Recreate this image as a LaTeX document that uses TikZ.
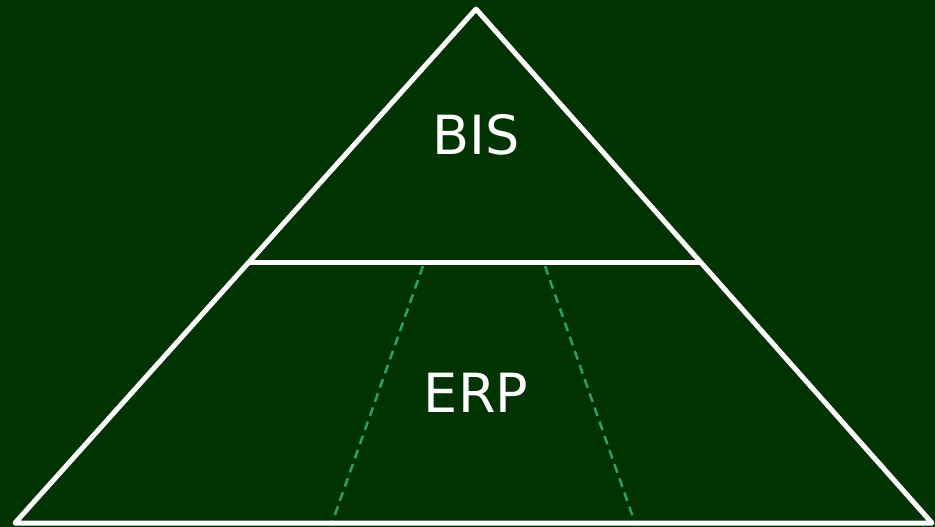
\documentclass[tikz,border=0pt]{standalone}
\usepackage{fontspec}
\setmainfont{DejaVu Sans}
\usetikzlibrary{calc}
\definecolor{bgreen}{HTML}{003300}
\definecolor{dgreen}{HTML}{2E9E6B}
\tikzset{
    edgeline/.style={
    draw=white,line width=5pt,line join=round
    },
    splitline/.style={
    draw=dgreen,line width=2.5pt,dash pattern=on 9pt off 6pt
    },
    label/.style={
    text=white,font=\fontsize{54}{60}\selectfont,inner sep=0pt
    },
}
\begin{document}
\begin{tikzpicture}[x=1pt,y=-1pt]
   \fill[bgreen] (0,0) rectangle (935,527);
   \useasboundingbox (0,0) rectangle (935,527);
   \coordinate (top) at (476,9);
   \coordinate (bl) at (15,523);
   \coordinate (br) at (932,523);
   \coordinate (ml) at ($(top)!0.494!(bl)$);
   \coordinate (mr) at ($(top)!0.494!(br)$);
   \coordinate (d1) at (423,266);
   \coordinate (d2) at (332,523);
   \coordinate (d3) at (545,266);
   \coordinate (d4) at (635,523);
   \node[label] (bis) at (476,135) {BIS};
   \node[label] (erp) at (476,393) {ERP};

   \draw[splitline] (d1) -- (d2);
   \draw[splitline] (d3) -- (d4);
   \draw[edgeline] (bl) -- (top) -- (br) -- cycle;
   \draw[edgeline] (ml) -- (mr);
\end{tikzpicture}
\end{document}
